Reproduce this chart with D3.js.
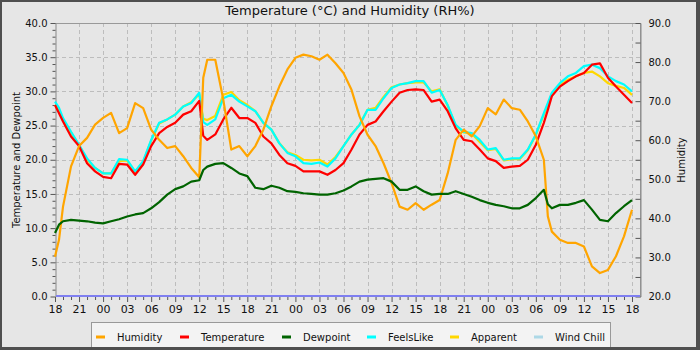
<!DOCTYPE html>
<html><head><meta charset="utf-8">
<script src="https://cdn.jsdelivr.net/npm/d3@7"></script>
<style>body{margin:0;background:#fff}svg{display:block;font-family:"DejaVu Sans",sans-serif}</style>
</head><body><svg id="c" width="700" height="350"></svg>
<script>
// hours since 18:00 on day 1
const hours = [0,0.5,1,2,3,4,5,6,7,8,9,10,11,12,13,14,15,16,17,18,18.5,19,20,21,22,23,24,
  25,26,27,28,29,30,31,32,33,34,35,36,37,38,39,40,41,42,43,44,45,46,47,48,
  49,50,51,52,53,54,55,56,57,58,59,60,61,61.5,62,63,64,65,66,67,68,69,70,71,72];
const humidity = [30.2,34.5,43,53.3,58.5,60.6,64,65.7,67,61.8,63.1,69.5,68.2,62.7,60.1,58,58.5,55.9,52.9,50.5,76,80.6,80.6,70.4,57.6,58.5,55.9,
  58.5,62.7,68.7,73.8,78.1,81.1,81.9,81.5,80.6,81.9,79.7,77.2,72.9,66.1,61.4,58.5,54.1,49,43,42.2,43.9,42.2,43.5,44.7,
  51.5,60.1,62.7,61,63.6,68.2,66.6,70.4,68.2,67.8,64.8,61,55,40.5,36.6,34.5,33.7,33.7,32.8,27.7,26,26.8,30.3,35.4,42.2];
const temperature = [28,26.8,25.6,23.4,22,19.5,18.3,17.5,17.3,19.4,19.3,17.8,19.3,22,23.9,24.8,25.4,26.6,27.1,28.6,23.5,22.9,23.7,25.9,27.6,26.1,26.1,
  25.4,23.4,22.4,20.7,19.5,19.1,18.3,18.3,18.3,17.8,18.5,19.5,21.5,23.7,25.1,25.6,27.1,28.5,29.8,30.2,30.3,30.2,28.5,28.8,
  27.1,24.6,22.9,22.7,21.5,20.2,19.8,18.8,19,19.1,20,22.2,25.4,27.3,29.3,30.7,31.5,32.2,32.7,33.9,34.1,32,30.7,29.5,28.3];
const dewpoint = [9.3,10.5,11,11.2,11.1,11,10.8,10.7,11,11.3,11.7,12,12.2,12.9,13.8,14.9,15.7,16.1,16.8,17,18.5,19,19.4,19.5,18.8,18,17.6,
  15.9,15.7,16.2,15.9,15.4,15.3,15.1,15,14.9,14.9,15.1,15.5,16.1,16.8,17.1,17.2,17.3,16.8,15.6,15.6,16.1,15.4,14.9,15,
  15,15.4,15,14.6,14.1,13.7,13.4,13.2,12.9,12.9,13.4,14.4,15.6,13.5,12.9,13.4,13.4,13.7,14.1,12.7,11.2,11,12.2,13.2,14.1];
const feelsLike = [28.5,27.6,26.1,24.1,22.2,20.2,18.8,18,18,20.1,20,18.3,19.8,22.9,25.4,25.9,26.6,27.8,28.3,29.8,25.5,25.1,25.9,29,29.5,28.5,27.8,
  27.1,25.4,24.4,22.4,21,20.5,19.5,19.4,19.6,19,20.2,22,23.7,25.1,27.3,27.3,29,30.5,31,31.2,31.5,31.5,29.8,30.2,
  28,25.1,24.1,23.9,22.9,21.5,21.7,20,20.2,20.2,21.5,23.7,26.8,28.3,29.8,31.2,32.2,32.7,33.7,33.9,33.4,32.2,31.5,31,30];
const apparent = [28,27.3,25.8,24,22.1,20,18.8,18,18,19.8,19.9,18.2,19.7,22.8,25.3,25.9,26.6,27.8,28.4,29.6,26,25.8,26.4,29.5,29.9,28.7,28,
  27.1,25.4,24.4,22.4,21.1,20.7,20,19.9,20,19.3,20.4,22,23.7,25.1,27.3,27.6,29.2,30.6,31,31.2,31.3,31.3,30,30.3,
  27.9,25,24,23.8,22.6,21.4,21.6,19.9,20.1,20.1,21.4,23.6,26.6,28,29.6,30.9,31.7,32.2,32.7,32.9,32.2,31.2,30.8,30.5,29.5];
const xTickLabels = ["18","21","00","03","06","09","12","15","18","21","00","03","06","09","12","15","18","21","00","03","06","09","12","15","18"];
const leftTicks = [0,5,10,15,20,25,30,35,40];
const rightTicks = [20,30,40,50,60,70,80,90];
const legendNames = ["Humidity","Temperature","Dewpoint","FeelsLike","Apparent","Wind Chill"];
const legendColors = ["#ffa500","#ff0000","#006400","#00ffff","#ffd700","#add8e6"];

const svg = d3.select("#c");
const W = 700, H = 350;
const L = 55, R = 632, RE = 640, T = 23, B = 296.5;
svg.append("rect").attr("width",W).attr("height",H).attr("fill","#4f4f4f");
svg.append("rect").attr("x",2).attr("y",2).attr("width",694).attr("height",345).attr("fill","#e6e6e6");

const x = d3.scaleLinear().domain([0,72]).range([L,R]);
const yL = d3.scaleLinear().domain([0,40]).range([B,T]);
const yR = d3.scaleLinear().domain([20,90]).range([B,T]);

// grid
const g = svg.append("g");
g.selectAll("line.h").data(leftTicks.filter(d=>d>0&&d<40)).join("line")
  .attr("x1",L).attr("x2",RE).attr("y1",d=>Math.round(yL(d))+0.5).attr("y2",d=>Math.round(yL(d))+0.5)
  .attr("stroke","#bdbdbd").attr("stroke-dasharray","4,3");
g.selectAll("line.v").data(d3.range(3,73,3)).join("line")
  .attr("y1",T).attr("y2",B).attr("x1",d=>Math.round(x(d))+0.5).attr("x2",d=>Math.round(x(d))+0.5)
  .attr("stroke","#bdbdbd").attr("stroke-dasharray","4,3");

// frame
svg.append("line").attr("x1",L).attr("x2",RE).attr("y1",T+0.5).attr("y2",T+0.5).attr("stroke","#999");
svg.append("line").attr("x1",RE+0.5).attr("x2",RE+0.5).attr("y1",T).attr("y2",B+1).attr("stroke","#999");

function styleAxis(sel){
  sel.select(".domain").attr("stroke","#888");
  sel.selectAll(".tick line").attr("stroke","#555");
  sel.selectAll("text").attr("fill","#111").attr("font-size","10px").attr("font-family","DejaVu Sans");
}
// left axis
const la = svg.append("g").attr("transform",`translate(${L+0.5},0)`)
  .call(d3.axisLeft(yL).tickValues(leftTicks).tickFormat(d3.format(".1f")).tickSize(5).tickSizeOuter(0).tickPadding(3));
styleAxis(la);
const lam = svg.append("g").attr("transform",`translate(${L+0.5},0)`)
  .call(d3.axisLeft(yL).tickValues(d3.range(0,41,1).filter(d=>d%5)).tickFormat("").tickSize(3).tickSizeOuter(0));
lam.select(".domain").remove(); lam.selectAll(".tick line").attr("stroke","#555");

// right axis
const ra = svg.append("g").attr("transform",`translate(${RE+0.5},0)`)
  .call(d3.axisRight(yR).tickValues(rightTicks).tickFormat(d3.format(".1f")).tickSizeInner(-5).tickSizeOuter(0).tickPadding(8));
styleAxis(ra);
const ram = svg.append("g").attr("transform",`translate(${RE+0.5},0)`)
  .call(d3.axisRight(yR).tickValues(d3.range(25,90,10)).tickFormat("").tickSizeInner(-5).tickSizeOuter(0));
ram.select(".domain").remove(); ram.selectAll(".tick line").attr("stroke","#555");

// bottom axis
const xa = svg.append("g").attr("transform",`translate(0,${B+0.5})`)
  .call(d3.axisBottom(x).tickValues(d3.range(0,73,3)).tickFormat((d,i)=>xTickLabels[i]).tickSize(5).tickSizeOuter(0).tickPadding(3));
styleAxis(xa); xa.select(".domain").remove();
xa.selectAll("text").attr("font-size","11px");
const xam = svg.append("g").attr("transform",`translate(0,${B+0.5})`)
  .call(d3.axisBottom(x).tickValues(d3.range(0,73,1).filter(d=>d%3)).tickFormat("").tickSize(3).tickSizeOuter(0));
xam.select(".domain").remove(); xam.selectAll(".tick line").attr("stroke","#555");

// baseline (blue)
svg.append("line").attr("x1",L+1).attr("x2",RE).attr("y1",B-0.5).attr("y2",B-0.5).attr("stroke","#7f7ff0").attr("stroke-width",2);

// series
function draw(vals, scale, color){
  const line = d3.line().x((d,i)=>x(hours[i])).y(d=>scale(d));
  svg.append("path").datum(vals).attr("d",line).attr("fill","none").attr("stroke",color)
    .attr("stroke-width",2.2).attr("stroke-linejoin","round");
}
draw(apparent, yL, legendColors[4]);
draw(feelsLike, yL, legendColors[3]);
draw(temperature, yL, legendColors[1]);
draw(humidity, yR, legendColors[0]);
draw(dewpoint, yL, legendColors[2]);

// titles
svg.append("text").attr("x",350).attr("y",15).attr("text-anchor","middle").attr("font-size","13px").attr("fill","#111")
  .text("Temperature (°C) and Humidity (RH%)");
svg.append("text").attr("transform","translate(20,160) rotate(-90)").attr("text-anchor","middle").attr("font-size","10px").attr("fill","#111")
  .text("Temperature and Dewpoint");
svg.append("text").attr("transform","translate(685,160) rotate(-90)").attr("text-anchor","middle").attr("font-size","10px").attr("fill","#111")
  .text("Humidity");

// legend
svg.append("rect").attr("x",91.5).attr("y",322.5).attr("width",519).attr("height",28).attr("fill","#f3f3f3").attr("stroke","#999");
svg.append("rect").attr("x",0).attr("y",347).attr("width",W).attr("height",3).attr("fill","#4f4f4f");
const legX = [96,180,282,367,450,534];
const lg = svg.append("g").selectAll("g").data(legendNames).join("g").attr("transform",(d,i)=>`translate(${legX[i]},337)`);
lg.append("line").attr("x1",0).attr("x2",9).attr("y1",0).attr("y2",0).attr("stroke",(d,i)=>legendColors[i]).attr("stroke-width",3);
lg.append("text").attr("x",21).attr("y",3.5).attr("font-size","10px").attr("fill","#111").text(d=>d);
</script></body></html>
